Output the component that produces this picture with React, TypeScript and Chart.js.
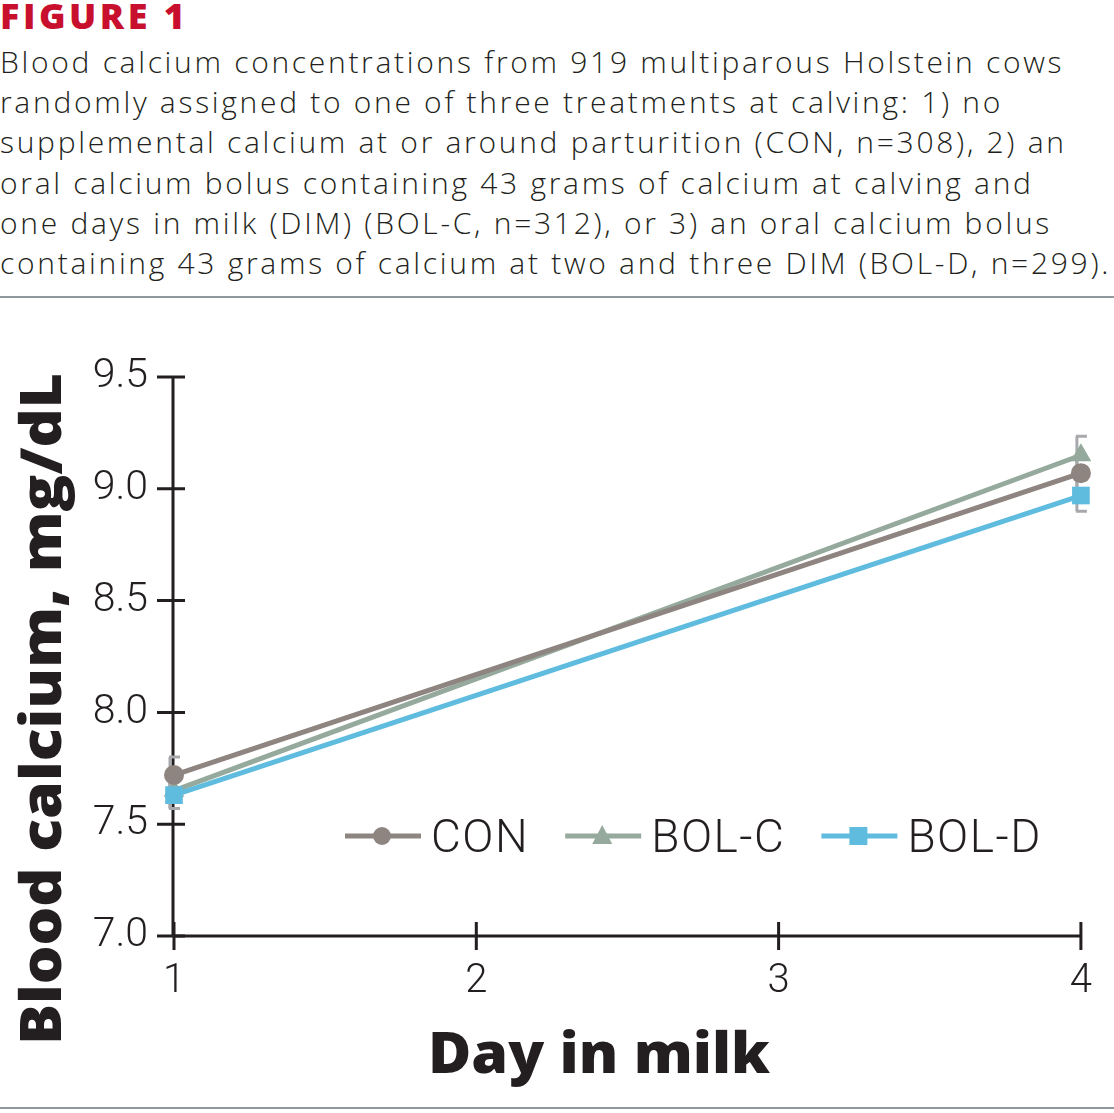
import React, { useEffect, useRef } from "react";
import { Chart, registerables } from "chart.js";

Chart.register(...registerables);

// ---------- data ----------
const days = [1, 4];
const seriesLabels = ["CON", "BOL-C", "BOL-D"];
const conValues = [7.72, 9.07];
const bolCValues = [7.65, 9.15];
const bolDValues = [7.63, 8.97];
const conSE = [0.08, 0.08];
const bolCSE = [0.08, 0.085];
const bolDSE = [0.06, 0.07];
const xTicks = [1, 2, 3, 4];
const yTicks = [7.0, 7.5, 8.0, 8.5, 9.0, 9.5];

const figureLabel = "FIGURE 1";
const captionLines = [
  "Blood calcium concentrations from 919 multiparous Holstein cows",
  "randomly assigned to one of three treatments at calving: 1) no",
  "supplemental calcium at or around parturition (CON, n=308), 2) an",
  "oral calcium bolus containing 43 grams of calcium at calving and",
  "one days in milk (DIM) (BOL-C, n=312), or 3) an oral calcium bolus",
  "containing 43 grams of calcium at two and three DIM (BOL-D, n=299).",
];
const xTitle = "Day in milk";
const yTitle = "Blood calcium, mg/dL";

const colors = ["#8e8580", "#95aa9c", "#5fbcdf"];
const errColor = "#a7a9ac";
const ink = "#231f20";

const CANVAS_TOP = 300;

const axesPlugin = {
  id: "customAxes",
  beforeDatasetsDraw(chart: any) {
    const { ctx, scales } = chart;
    const xs = scales.x;
    const ys = scales.y;
    ctx.save();
    ctx.strokeStyle = ink;
    ctx.lineWidth = 3;
    const x0 = xs.getPixelForValue(xTicks[0]);
    const x1 = xs.getPixelForValue(xTicks[xTicks.length - 1]);
    const yb = ys.getPixelForValue(yTicks[0]);
    const yt = ys.getPixelForValue(yTicks[yTicks.length - 1]);
    ctx.beginPath();
    ctx.moveTo(x0 - 1, yt);
    ctx.lineTo(x0 - 1, yb);
    ctx.moveTo(x0, yb);
    ctx.lineTo(x1, yb);
    ctx.stroke();
    ctx.beginPath();
    yTicks.forEach((v) => {
      const y = ys.getPixelForValue(v);
      ctx.moveTo(x0 - 17, y);
      ctx.lineTo(x0 + 11, y);
    });
    xTicks.forEach((v) => {
      const x = xs.getPixelForValue(v);
      ctx.moveTo(x, yb - 14);
      ctx.lineTo(x, yb + 14);
    });
    ctx.stroke();

    // error bars
    ctx.strokeStyle = errColor;
    ctx.lineWidth = 3;
    chart.data.datasets.forEach((ds: any) => {
      const se: number[] = ds.se;
      ds.data.forEach((p: any, i: number) => {
        const px = xs.getPixelForValue(p.x);
        const yHi = ys.getPixelForValue(p.y + se[i]);
        const yLo = ys.getPixelForValue(p.y - se[i]);
        const vx = px - 4;
        ctx.beginPath();
        ctx.moveTo(vx, yHi);
        ctx.lineTo(vx, yLo);
        ctx.moveTo(vx - 1, yHi);
        ctx.lineTo(vx + 10, yHi);
        ctx.moveTo(vx - 1, yLo);
        ctx.lineTo(vx + 10, yLo);
        ctx.stroke();
      });
    });
    ctx.restore();
  },
  afterDraw(chart: any) {
    const { ctx } = chart;
    ctx.save();
    ctx.fillStyle = ink;
    // y title
    ctx.font = "800 56px 'Open Sans'";
    ctx.textAlign = "center";
    ctx.textBaseline = "alphabetic";
    const yw = ctx.measureText(yTitle).width;
    ctx.translate(61, 709 - CANVAS_TOP);
    ctx.rotate(-Math.PI / 2);
    ctx.scale(672 / yw, 1);
    ctx.fillText(yTitle, 0, 0);
    ctx.restore();

    ctx.save();
    ctx.fillStyle = ink;
    ctx.font = "800 56px 'Open Sans'";
    ctx.textAlign = "center";
    ctx.textBaseline = "alphabetic";
    const xw = ctx.measureText(xTitle).width;
    ctx.translate(599, 1073 - CANVAS_TOP);
    ctx.scale(342 / xw, 1);
    ctx.fillText(xTitle, 0, 0);
    ctx.restore();

    // legend
    ctx.save();
    const ly = 836 - CANVAS_TOP;
    let lx = 345;
    ctx.font = "300 46px Roboto";
    try { (ctx as any).letterSpacing = "1.5px"; } catch (e) {}
    ctx.textBaseline = "alphabetic";
    ctx.textAlign = "left";
    chart.data.datasets.forEach((ds: any) => {
      ctx.strokeStyle = ds.borderColor;
      ctx.lineWidth = 5;
      ctx.beginPath();
      ctx.moveTo(lx, ly);
      ctx.lineTo(lx + 76, ly);
      ctx.stroke();
      const cx = lx + 37;
      ctx.fillStyle = ds.borderColor;
      ctx.beginPath();
      if (ds.pointStyle === "circle") {
        ctx.arc(cx, ly, 9, 0, Math.PI * 2);
      } else if (ds.pointStyle === "triangle") {
        ctx.moveTo(cx, ly - 11);
        ctx.lineTo(cx + 10, ly + 8);
        ctx.lineTo(cx - 10, ly + 8);
        ctx.closePath();
      } else {
        ctx.rect(cx - 9, ly - 9, 18, 18);
      }
      ctx.fill();
      ctx.fillStyle = ink;
      const tx = lx + 86;
      ctx.fillText(ds.label, tx, ly + 16);
      lx = tx + ctx.measureText(ds.label).width + 36;
    });
    ctx.restore();
  },
};

function ChartCanvas() {
  const ref = useRef<HTMLCanvasElement | null>(null);
  useEffect(() => {
    if (!ref.current) return;
    const valueSets = [conValues, bolCValues, bolDValues];
    const seSets = [conSE, bolCSE, bolDSE];
    const styles = ["circle", "triangle", "rect"];
    const radii = [10, 12, 12.5];
    const orders = [1, 2, 0];
    const chart = new Chart(ref.current, {
      type: "line",
      data: {
        datasets: seriesLabels.map((label, k) => ({
          label,
          data: days.map((d, i) => ({ x: d, y: valueSets[k][i] })),
          se: seSets[k],
          borderColor: colors[k],
          backgroundColor: colors[k],
          pointBackgroundColor: colors[k],
          pointBorderWidth: 0,
          borderWidth: 5,
          pointStyle: styles[k],
          pointRadius: radii[k],
          pointHoverRadius: radii[k],
          order: orders[k],
          clip: false,
          tension: 0,
        })) as any,
      },
      options: {
        animation: false,
        responsive: false,
        maintainAspectRatio: false,
        events: [],
        layout: { padding: { top: 77, right: 32, left: 0, bottom: 0 } },
        plugins: { legend: { display: false }, tooltip: { enabled: false }, title: { display: false } },
        scales: {
          x: {
            type: "linear",
            min: xTicks[0],
            max: xTicks[xTicks.length - 1],
            afterFit: (s: any) => { s.height = 169; },
            afterBuildTicks: (s: any) => { s.ticks = xTicks.map((v) => ({ value: v })); },
            grid: { display: false, drawTicks: false },
            border: { display: false },
            ticks: {
              padding: 22,
              color: ink,
              font: { family: "Roboto", weight: "300", size: 40 },
              callback: (v: any) => String(v),
            },
          },
          y: {
            type: "linear",
            min: yTicks[0],
            max: yTicks[yTicks.length - 1],
            afterFit: (s: any) => { s.width = 174; },
            afterBuildTicks: (s: any) => { s.ticks = yTicks.map((v) => ({ value: v })); },
            grid: { display: false, drawTicks: false },
            border: { display: false },
            ticks: {
              padding: 26,
              color: ink,
              font: { family: "Roboto", weight: "300", size: 41 },
              callback: (v: any) => Number(v).toFixed(1),
            },
          },
        },
      } as any,
      plugins: [axesPlugin],
    });
    return () => chart.destroy();
  }, []);
  return <canvas ref={ref} width={1114} height={805} style={{ display: "block", width: 1114, height: 805 }} />;
}

export default function App() {
  useEffect(() => {
    document.body.style.margin = "0";
  }, []);
  return (
    <div style={{ position: "relative", width: 1114, height: 1113, background: "#fff", overflow: "hidden" }}>
      <div
        style={{
          position: "absolute",
          left: 0,
          top: -6,
          fontFamily: "'Open Sans', sans-serif",
          fontWeight: 800,
          fontSize: 36,
          lineHeight: "44px",
          color: "#c8102e",
          letterSpacing: 3.5,
        }}
      >
        {figureLabel}
      </div>
      {captionLines.map((line, i) => (
        <div
          key={i}
          style={{
            position: "absolute",
            left: 0,
            top: 42 + i * 40.2,
            fontFamily: "'Open Sans', sans-serif",
            fontWeight: 300,
            fontSize: 30,
            lineHeight: "40px",
            letterSpacing: 2.7,
            color: ink,
            whiteSpace: "nowrap",
          }}
        >
          {line}
        </div>
      ))}
      <div style={{ position: "absolute", left: 0, top: 296, width: 1114, height: 2, background: "#8f989c" }} />
      <div style={{ position: "absolute", left: 0, top: CANVAS_TOP }}>
        <ChartCanvas />
      </div>
      <div style={{ position: "absolute", left: 0, top: 1107, width: 1114, height: 2, background: "#8f989c" }} />
    </div>
  );
}
